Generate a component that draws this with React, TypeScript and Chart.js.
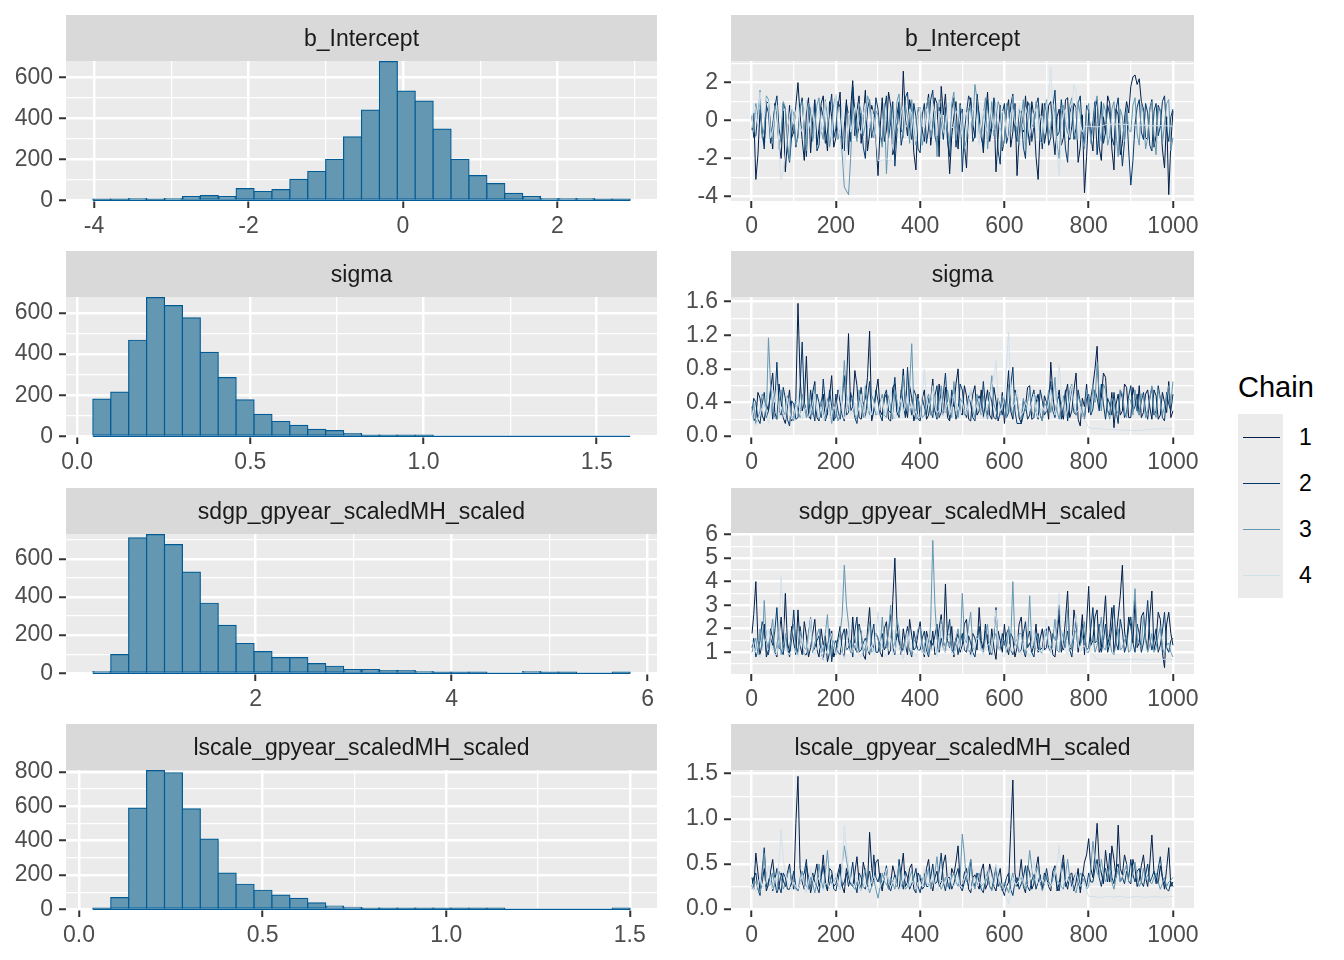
import React, { useEffect, useRef } from "react";
import { Chart, registerables } from "chart.js";

Chart.register(...registerables);
Chart.defaults.font.family = '"Liberation Sans", Arial, sans-serif';

// ---------------- Colours ----------------
const CHAIN_COLORS = ["#011f4b", "#03396c", "#6497b1", "#d1e1ec"];
const CHAIN_LABELS = ["1", "2", "3", "4"];
const HIST_FILL = "#6497b1";
const HIST_LINE = "#005b96";

// ---------------- Histogram data (30 bins each) ----------------
const INTERCEPT_BIN_START = -4.015;
const INTERCEPT_BIN_WIDTH = 0.2319;
const INTERCEPT_COUNTS = [3, 1, 8, 3, 8, 18, 23, 18, 57, 43, 52, 102, 141, 200, 310, 441, 678, 534, 485, 348, 200, 121, 82, 34, 18, 8, 8, 8, 3, 1];

const SIGMA_BIN_START = 0.0454;
const SIGMA_BIN_WIDTH = 0.0517;
const SIGMA_COUNTS = [181, 215, 467, 674, 635, 576, 408, 285, 177, 107, 72, 53, 34, 28, 13, 3, 3, 1, 1, 0, 0, 0, 0, 0, 0, 0, 0, 0, 0, 0];

const SDGP_BIN_START = 0.34;
const SDGP_BIN_WIDTH = 0.1827;
const SDGP_COUNTS = [9, 98, 709, 726, 674, 530, 367, 251, 156, 114, 82, 82, 51, 37, 19, 19, 14, 14, 9, 4, 4, 1, 0, 0, 9, 4, 1, 0, 0, 1];

const LSCALE_BIN_START = 0.0376;
const LSCALE_BIN_WIDTH = 0.04878;
const LSCALE_COUNTS = [2, 68, 589, 807, 795, 585, 409, 211, 146, 111, 82, 64, 37, 18, 12, 6, 4, 4, 4, 4, 1, 1, 1, 0, 0, 0, 0, 0, 0, 1];

// ---------------- Trace data ----------------
// main draws at iterations 1, 10, 20, ..., 1000; mid draws at 5, 15, ..., 995
const ITERATIONS = [1, ...Array.from({ length: 100 }, (_, i) => (i + 1) * 10)];
const ITERATIONS_MID = Array.from({ length: 100 }, (_, i) => i * 10 + 5);

const INTERCEPT_CHAIN1 = [
  -0.5, -3.1, 0.6, -1.2, 0.9, -1.5, 0.3, -2.0, -2.7, 0.8,
  -0.6, 2.0, -1.0, 0.4, -1.7, 1.1, -0.4, 1.3, -1.6, 0.2,
  -0.9, 1.5, -0.3, -1.8, 2.1, 0.5, -1.2, 1.6, -0.7, 0.3,
  -2.9, 1.2, -0.5, 0.8, -1.4, 1.0, 2.6, -0.8, 0.4, -2.6,
  0.7, -1.1, 1.4, -0.2, 0.9, 1.8, 1.4, -2.8, 0.2, -1.5,
  0.6, -2.5, 1.2, -0.9, 0.3, -1.7, 1.5, -0.4, -2.7, 0.8,
  -1.0, 1.1, -0.6, -2.9, 0.5, 1.3, -1.3, 0.2, -3.1, 0.9,
  -0.5, 1.0, -1.8, 0.6, -0.9, 1.2, -0.3, 0.7, -1.4, -3.8,
  0.4, -1.6, 1.1, -2.1, -0.7, 0.9, -2.6, 0.3, -1.2, 1.0,
  1.8, 2.4, 2.2, 0.6, -1.0, 1.1, -0.8, 0.5, -2.5, -3.9,
  0.5,
];
const INTERCEPT_CHAIN1_MID = [
  0.4, -1.8, -0.7, 1.0, -0.3, 0.9, -1.2, 0.5, -1.0, -0.9,
  0.8, 0.3, -2.1, 1.2, 0.0, -1.3, 0.9, -0.5, 1.0, -1.4,
  0.7, -1.5, 1.1, 0.6, -0.8, 1.3, 0.2, -1.6, 0.8, -1.0,
  -0.4, -1.1, 1.5, -1.8, 0.3, -0.6, 0.1, 1.1, -1.7, 0.5,
  -0.5, 0.6, -1.3, 1.2, -1.9, 0.3, -0.6, -0.8, 1.0, 0.3,
  -1.3, 0.4, -0.2, 1.4, -0.5, 0.2, -1.1, 0.9, -0.9, -1.6,
  0.5, -1.4, 0.9, -0.8, -0.6, -0.4, 1.0, -1.9, -0.3, -1.2,
  0.8, -0.7, 0.2, -1.3, 1.1, -1.0, 0.9, -2.2, 0.3, -1.9,
  -0.8, 0.6, -1.4, 0.2, 1.3, -1.5, 0.6, -1.8, 0.1, 0.4,
  2.3, 1.9, 1.0, -0.9, 0.6, -1.4, 0.8, -1.5, 0.2, -1.2,
];
const INTERCEPT_CHAIN2 = [
  0.2, -0.8, 1.0, -1.5, 0.4, -0.2, 1.3, -1.1, 0.6, -2.2,
  0.1, -0.7, 1.2, -1.9, 0.5, 0.9, -1.3, 0.2, -0.6, 1.4,
  -0.4, 0.7, -1.6, 0.3, 1.8, -0.9, 0.4, -2.0, 1.1, -0.3,
  0.6, -1.2, 1.3, -0.1, -2.4, 0.8, -0.6, 1.5, -1.0, 0.2,
  -1.7, 0.9, -0.4, 1.6, -1.3, 0.1, 0.7, -1.9, 1.2, -0.5,
  -2.7, 0.4, 1.0, -0.8, 0.3, -1.4, 1.1, -0.2, 0.6, -2.3,
  0.9, -0.7, 1.4, -1.1, 0.2, -2.0, 0.7, -0.3, 1.2, -1.5,
  0.4, -0.9, 1.6, -0.6, 0.1, -2.2, 0.8, -0.4, 1.3, -1.2,
  0.5, -0.1, -1.8, 1.0, -0.6, 0.3, -1.3, 1.2, -2.4, 0.6,
  -3.4, -0.2, 1.1, -1.0, 0.4, -1.6, 0.9, -0.3, 1.3, -1.1,
  0.6,
];
const INTERCEPT_CHAIN2_MID = [
  -0.9, 0.4, -0.6, 0.8, -1.2, 0.7, -0.4, 0.9, -1.5, -0.8,
  -1.4, 0.6, -0.5, 0.9, -0.7, -1.6, 0.7, -1.2, 0.5, -0.9,
  1.0, -0.8, 0.9, -1.1, 0.5, -0.3, -1.4, 0.6, -0.9, 1.2,
  -0.7, 0.5, -0.9, 1.0, -0.6, -1.3, 1.2, -0.4, 0.9, -1.5,
  0.3, -1.2, 1.1, -0.8, 0.7, -1.0, -1.1, 0.6, -1.4, 0.9,
  -0.6, 1.3, -1.1, 0.9, -0.9, 0.5, -0.7, 1.2, -1.6, 0.4,
  -1.2, 0.8, -0.5, 0.6, -1.4, 1.0, -1.1, 0.8, -0.4, 0.9,
  -1.3, 0.7, -0.8, 1.1, -1.5, 0.4, -1.0, 0.9, -0.6, 0.8,
  -0.9, 1.0, -0.4, -1.2, 0.8, -0.9, 0.6, -0.7, -1.1, -1.6,
  -2.1, 0.7, -0.6, 0.9, -1.3, 0.5, -0.8, 1.0, -0.5, 0.2,
];
const INTERCEPT_CHAIN3 = [
  0.3, 0.9, 1.6, -0.4, 1.1, -1.2, 0.5, -0.8, 0.7, -2.1,
  0.4, -0.9, 1.0, -1.6, 0.6, -0.3, 1.2, -1.0, 0.2, -0.6,
  1.3, -0.5, -3.5, -3.9, 0.8, -1.1, 0.5, -0.2, 1.0, -0.9,
  0.3, -1.4, -2.8, 0.7, -0.5, 1.4, -0.9, 0.2, 1.1, -1.3,
  0.6, -0.7, 1.2, -0.4, -1.9, 0.9, 0.2, -1.2, 1.5, -0.3,
  0.4, -1.0, 0.8, 1.9, -0.6, 0.3, -1.5, 1.0, -0.2, 0.7,
  -1.1, 0.5, 1.3, -0.8, 0.2, -1.6, 0.9, -0.4, 0.6, -1.2,
  1.1, -0.3, 0.4, -2.0, 0.8, -0.7, 1.2, -1.0, 0.3, -1.5,
  0.9, -0.4, 1.3, -1.1, 0.5, -0.8, 1.0, -1.9, 0.2, 0.7,
  -0.6, 1.2, -1.3, 0.4, -0.9, 1.0, -1.8, 0.6, -0.2, 1.1,
  -0.9,
];
const INTERCEPT_CHAIN3_MID = [
  -0.6, 0.2, -0.9, 1.3, -0.4, 0.8, -1.5, 1.0, -1.2, 0.6,
  -1.3, 0.7, -0.4, 0.9, -1.1, 0.8, -0.5, 1.1, -1.4, 0.9,
  -1.0, -1.8, -3.7, -2.0, -0.4, 0.9, -0.8, 1.3, -0.6, 0.5,
  -0.8, 0.9, -0.6, -1.1, 1.0, -0.3, 0.8, -1.2, -0.4, 0.7,
  -1.3, 0.8, -0.9, 0.5, 1.1, -0.7, -0.5, 0.9, -1.0, 0.8,
  -1.5, 0.6, -0.3, 1.1, -0.9, 1.2, -0.4, -0.8, 1.0, -1.4,
  0.9, -0.6, 0.2, -1.3, 1.1, -0.5, -0.2, 1.0, -1.1, 0.6,
  -0.8, 0.9, -1.3, 0.4, -0.2, 0.8, -0.6, 1.0, -0.9, 0.5,
  -1.2, 0.8, -0.5, 0.9, -1.3, 0.6, -0.7, 0.6, -1.1, -0.5,
  0.8, -0.7, 0.9, -1.5, 0.6, -0.8, 0.7, -1.2, 0.9, -1.6,
];
const INTERCEPT_CHAIN4 = [
  -0.4, 0.6, 1.5, 0.2, 1.0, -0.5, 0.8, -3.1, -1.8, 0.3,
  -0.2, 0.9, -0.6, 1.1, 0.1, -0.9, 0.5, -0.3, 0.7, -1.0,
  1.4, -0.8, -2.5, 0.4, -0.1, 0.6, -0.7, 0.9, -0.4, 0.2,
  -2.1, -2.1, -2.0, -2.1, 0.5, -0.6, 0.8, -0.2, 0.4, -1.1,
  0.7, -0.4, 0.3, 0.9, -0.8, 0.1, -0.5, 1.0, -0.3, 0.6,
  -0.9, 0.4, -0.2, 0.8, -1.3, 0.5, -0.6, 0.2, 0.9, -0.4,
  0.3, -1.0, 0.6, -0.3, 0.1, 0.7, -0.8, 0.4, -0.5, 0.2,
  0.9, 2.8, -0.6, -2.9, 0.3, -0.4, 0.7, 1.6, -0.2, -0.3,
  -0.3, -0.32, -0.34, -0.3, -0.22, -0.2, -0.2, -0.18, -0.2, -0.2,
  -0.26, -0.25, -0.25, -0.24, -0.26, -0.28, -0.27, -0.26, -0.28, -0.27,
  -0.3,
];
const INTERCEPT_CHAIN4_MID = [
  0.9, -0.2, 0.4, 1.2, -0.9, 0.3, -1.4, -2.6, -0.5, 0.8,
  0.5, -0.3, 0.6, -0.5, 0.8, 0.2, -0.6, 1.0, -0.2, 0.4,
  -0.3, 0.5, -1.4, -0.6, 0.7, -0.4, 0.3, -0.2, 0.6, -0.8,
  -2.1, -2.0, -2.1, -1.2, -0.2, 0.4, -0.4, 0.6, -0.7, 0.3,
  -0.3, 0.6, -0.5, 0.2, 0.5, -0.6, 0.8, -0.4, 0.4, -0.2,
  0.6, -0.7, 0.5, -0.4, 0.2, -0.3, 0.7, -0.5, 0.1, 0.5,
  -0.6, 0.4, -0.2, 0.8, -0.5, 0.3, -0.2, 0.6, 0.2, -0.7,
  1.3, 0.5, -1.6, -0.8, 0.6, -0.9, 1.9, -1.0, -0.6, -0.3,
  -0.31, -0.33, -0.32, -0.26, -0.21, -0.2, -0.19, -0.19, -0.2, -0.23,
  -0.25, -0.25, -0.24, -0.25, -0.27, -0.28, -0.26, -0.27, -0.28, -0.29,
];

const SIGMA_CHAIN1 = [
  0.35, 0.22, 0.45, 0.18, 0.30, 0.75, 0.20, 0.40, 0.15, 0.55,
  0.25, 1.58, 0.30, 0.95, 0.20, 0.65, 0.18, 0.50, 0.28, 0.72,
  0.22, 0.40, 0.18, 1.22, 0.35, 0.60, 0.20, 0.45, 1.25, 0.30,
  0.68, 0.25, 0.50, 0.18, 0.62, 0.30, 0.80, 0.22, 0.45, 0.28,
  0.20, 0.55, 0.25, 0.68, 0.20, 0.40, 0.58, 0.18, 0.35, 0.80,
  0.25, 0.48, 0.18, 0.60, 0.30, 0.22, 0.55, 0.20, 0.42, 0.28,
  0.15, 0.78, 0.20, 0.45, 0.15, 0.35, 0.60, 0.22, 0.50, 0.18,
  0.40, 0.88, 0.25, 0.55, 0.20, 0.62, 0.30, 0.75, 0.12, 0.35,
  0.28, 0.60, 1.07, 0.45, 0.70, 0.25, 0.10, 0.50, 0.30, 0.58,
  0.22, 0.45, 0.60, 0.28, 0.55, 0.20, 0.48, 0.25, 0.40, 0.65,
  0.30,
];
const SIGMA_CHAIN1_MID = [
  0.18, 0.52, 0.25, 0.38, 0.55, 0.28, 0.62, 0.22, 0.35, 0.18,
  0.45, 0.70, 0.40, 0.25, 0.52, 0.22, 0.40, 0.18, 0.48, 0.20,
  0.55, 0.25, 0.60, 0.30, 0.78, 0.22, 0.38, 0.70, 0.18, 0.52,
  0.30, 0.45, 0.20, 0.58, 0.25, 0.48, 0.35, 0.60, 0.18, 0.50,
  0.45, 0.20, 0.42, 0.30, 0.62, 0.25, 0.22, 0.45, 0.62, 0.28,
  0.60, 0.20, 0.50, 0.25, 0.55, 0.40, 0.25, 0.58, 0.18, 0.52,
  0.45, 0.30, 0.55, 0.22, 0.42, 0.58, 0.20, 0.40, 0.25, 0.48,
  0.20, 0.50, 0.42, 0.28, 0.50, 0.22, 0.55, 0.20, 0.45, 0.62,
  0.45, 0.80, 0.35, 0.75, 0.30, 0.52, 0.38, 0.25, 0.62, 0.22,
  0.58, 0.30, 0.22, 0.50, 0.35, 0.55, 0.20, 0.52, 0.28, 0.22,
];
const SIGMA_CHAIN2 = [
  0.28, 0.40, 0.15, 0.52, 0.30, 0.20, 0.88, 0.25, 0.45, 0.12,
  0.38, 0.22, 1.12, 0.30, 0.55, 0.18, 0.40, 0.68, 0.25, 0.35,
  0.50, 0.20, 0.72, 0.28, 0.40, 0.15, 0.58, 0.22, 0.65, 0.30,
  0.42, 0.18, 0.55, 0.28, 0.70, 0.22, 0.38, 0.82, 0.25, 0.48,
  0.18, 0.35, 0.45, 0.22, 0.60, 0.28, 0.75, 0.20, 0.42, 0.30,
  0.55, 0.22, 0.38, 0.18, 0.48, 0.65, 0.25, 0.40, 0.20, 0.35,
  0.45, 0.28, 0.82, 0.15, 0.15, 0.38, 0.25, 0.55, 0.20, 0.42,
  0.30, 0.65, 0.22, 0.48, 0.35, 0.18, 0.58, 0.25, 0.40, 0.20,
  0.50, 0.32, 0.45, 0.62, 0.20, 0.38, 0.52, 0.15, 0.45, 0.28,
  0.60, 0.35, 0.25, 0.52, 0.20, 0.58, 0.30, 0.45, 0.18, 0.38,
  0.50,
];
const SIGMA_CHAIN2_MID = [
  0.45, 0.20, 0.38, 0.22, 0.55, 0.40, 0.30, 0.58, 0.20, 0.42,
  0.20, 0.58, 0.40, 0.22, 0.32, 0.50, 0.22, 0.38, 0.55, 0.18,
  0.30, 0.45, 0.25, 0.52, 0.22, 0.40, 0.30, 0.45, 0.22, 0.55,
  0.25, 0.48, 0.30, 0.45, 0.30, 0.55, 0.22, 0.40, 0.55, 0.20,
  0.45, 0.25, 0.30, 0.48, 0.22, 0.50, 0.35, 0.55, 0.20, 0.62,
  0.30, 0.48, 0.22, 0.40, 0.30, 0.35, 0.52, 0.22, 0.45, 0.25,
  0.22, 0.60, 0.30, 0.15, 0.25, 0.20, 0.45, 0.30, 0.55, 0.25,
  0.48, 0.30, 0.42, 0.20, 0.55, 0.40, 0.28, 0.55, 0.25, 0.45,
  0.25, 0.55, 0.30, 0.38, 0.45, 0.25, 0.30, 0.55, 0.22, 0.48,
  0.30, 0.50, 0.42, 0.30, 0.45, 0.25, 0.60, 0.22, 0.52, 0.30,
];
const SIGMA_CHAIN3 = [
  0.25, 0.15, 0.30, 0.45, 1.17, 0.35, 0.20, 0.55, 0.25, 0.40,
  0.18, 0.30, 0.50, 0.22, 0.35, 0.60, 0.20, 0.28, 0.45, 0.15,
  0.32, 0.25, 0.90, 0.30, 0.48, 0.20, 0.38, 0.60, 0.25, 0.42,
  0.28, 0.50, 0.22, 0.35, 0.55, 0.25, 0.72, 0.30, 1.10, 0.20,
  0.35, 0.25, 0.50, 0.30, 0.22, 0.60, 0.28, 0.40, 0.65, 0.22,
  0.40, 0.30, 0.55, 0.22, 0.35, 0.48, 0.20, 0.72, 0.30, 0.25,
  0.38, 0.62, 0.25, 0.45, 0.20, 0.30, 0.55, 0.22, 0.40, 0.18,
  0.35, 0.28, 0.70, 0.20, 0.48, 0.30, 0.62, 0.25, 0.40, 0.22,
  0.45, 0.60, 0.88, 0.30, 0.55, 0.20, 0.40, 0.30, 0.50, 0.22,
  0.42, 0.55, 0.25, 0.48, 0.30, 0.60, 0.22, 0.45, 0.35, 0.60,
  0.65,
];
const SIGMA_CHAIN3_MID = [
  0.40, 0.22, 0.50, 0.25, 0.60, 0.22, 0.40, 0.30, 0.48, 0.22,
  0.42, 0.22, 0.35, 0.45, 0.25, 0.30, 0.42, 0.20, 0.35, 0.30,
  0.18, 0.45, 0.50, 0.40, 0.25, 0.55, 0.22, 0.35, 0.48, 0.25,
  0.40, 0.25, 0.48, 0.20, 0.42, 0.38, 0.45, 0.60, 0.35, 0.45,
  0.22, 0.42, 0.25, 0.48, 0.40, 0.30, 0.55, 0.22, 0.35, 0.45,
  0.25, 0.42, 0.30, 0.50, 0.25, 0.30, 0.45, 0.38, 0.22, 0.48,
  0.22, 0.35, 0.52, 0.25, 0.45, 0.40, 0.30, 0.48, 0.25, 0.40,
  0.55, 0.45, 0.30, 0.38, 0.25, 0.55, 0.35, 0.48, 0.30, 0.55,
  0.28, 0.40, 0.50, 0.62, 0.30, 0.45, 0.25, 0.55, 0.30, 0.45,
  0.25, 0.30, 0.50, 0.22, 0.45, 0.30, 0.55, 0.25, 0.48, 0.40,
];
const SIGMA_CHAIN4 = [
  0.30, 0.12, 0.25, 0.40, 0.15, 0.55, 0.60, 0.35, 0.20, 0.30,
  0.25, 0.45, 0.20, 0.35, 0.28, 0.50, 0.22, 0.18, 0.40, 0.25,
  0.30, 0.60, 0.20, 0.45, 0.30, 0.25, 0.50, 0.22, 0.35, 0.40,
  0.25, 0.45, 0.30, 0.55, 0.20, 0.35, 0.28, 0.50, 0.40, 0.30,
  0.22, 0.80, 0.35, 0.60, 0.28, 0.45, 0.30, 0.25, 0.50, 0.35,
  0.40, 0.25, 0.55, 0.30, 0.45, 0.20, 0.35, 0.60, 0.90, 0.30,
  0.45, 1.24, 0.35, 0.55, 0.25, 0.40, 0.30, 0.50, 0.22, 0.35,
  0.30, 0.55, 0.25, 0.85, 0.40, 0.30, 0.60, 0.28, 0.35, 0.20,
  0.10, 0.09, 0.09, 0.085, 0.08, 0.08, 0.08, 0.075, 0.075, 0.07,
  0.07, 0.065, 0.065, 0.07, 0.08, 0.08, 0.085, 0.085, 0.09, 0.09,
  0.09,
];
const SIGMA_CHAIN4_MID = [
  0.15, 0.20, 0.35, 0.28, 0.30, 0.40, 0.22, 0.25, 0.45, 0.20,
  0.35, 0.28, 0.30, 0.22, 0.40, 0.30, 0.35, 0.30, 0.22, 0.35,
  0.45, 0.30, 0.35, 0.25, 0.40, 0.35, 0.30, 0.28, 0.25, 0.30,
  0.38, 0.25, 0.40, 0.30, 0.28, 0.45, 0.35, 0.30, 0.25, 0.22,
  0.50, 0.45, 0.40, 0.35, 0.30, 0.25, 0.40, 0.35, 0.30, 0.25,
  0.30, 0.40, 0.35, 0.38, 0.30, 0.28, 0.45, 0.70, 0.45, 0.35,
  0.85, 0.50, 0.40, 0.35, 0.30, 0.35, 0.40, 0.30, 0.28, 0.30,
  0.40, 0.35, 0.45, 0.50, 0.25, 0.45, 0.35, 0.30, 0.25, 0.15,
  0.095, 0.09, 0.088, 0.082, 0.08, 0.08, 0.078, 0.075, 0.072, 0.07,
  0.068, 0.065, 0.068, 0.075, 0.08, 0.082, 0.085, 0.088, 0.09, 0.09,
];

const SDGP_CHAIN1 = [
  1.8, 4.0, 0.9, 2.2, 1.1, 1.6, 0.8, 2.5, 3.5, 1.0,
  1.4, 2.8, 0.9, 1.7, 1.2, 2.4, 0.8, 1.3, 0.6, 1.9,
  1.1, 2.1, 0.8, 1.5, 2.5, 1.0, 1.8, 0.7, 2.9, 1.2,
  1.6, 0.8, 2.3, 1.1, 5.0, 1.4, 2.0, 0.9, 1.7, 1.2,
  2.3, 0.8, 1.5, 1.9, 1.0, 2.6, 3.9, 1.2, 0.8, 1.8,
  1.3, 2.4, 0.9, 1.6, 2.9, 1.1, 1.4, 2.0, 0.7, 1.5,
  2.2, 0.9, 1.6, 1.2, 2.5, 0.8, 1.9, 1.3, 1.0, 2.0,
  1.2, 1.8, 0.8, 2.6, 1.4, 3.6, 1.1, 2.2, 1.6, 0.9,
  3.8, 1.5, 2.8, 1.2, 3.4, 1.8, 1.0, 2.5, 4.7, 1.3,
  2.1, 3.2, 1.4, 2.7, 1.1, 3.6, 1.5, 2.4, 0.35, 2.7,
  1.3,
];
const SDGP_CHAIN1_MID = [
  2.6, 1.5, 1.4, 0.8, 2.0, 1.0, 1.7, 1.2, 1.4, 2.1,
  0.9, 1.3, 2.3, 0.8, 1.8, 1.1, 2.0, 1.7, 1.0, 0.8,
  1.6, 1.0, 2.0, 1.0, 1.2, 2.2, 0.9, 1.9, 1.3, 1.8,
  1.0, 2.0, 0.9, 3.2, 2.2, 0.9, 1.3, 2.4, 1.1, 1.8,
  1.2, 1.9, 1.1, 0.9, 2.0, 1.3, 1.5, 2.1, 1.5, 1.0,
  2.2, 1.1, 1.8, 1.1, 1.5, 2.2, 0.9, 1.2, 1.9, 1.0,
  1.2, 1.8, 0.8, 2.2, 1.1, 1.6, 1.0, 2.2, 1.6, 1.1,
  2.1, 0.9, 1.7, 1.0, 2.4, 1.2, 2.8, 1.0, 2.6, 2.2,
  1.3, 2.5, 1.0, 2.2, 1.3, 2.9, 1.6, 3.4, 1.9, 2.5,
  1.4, 1.2, 2.5, 1.6, 2.5, 1.1, 2.7, 1.0, 2.2, 1.8,
];
const SDGP_CHAIN2 = [
  1.2, 0.8, 1.5, 2.0, 0.9, 1.3, 2.9, 1.1, 1.7, 0.8,
  2.8, 1.0, 1.4, 0.9, 2.4, 1.2, 1.7, 0.7, 1.1, 0.6,
  1.5, 0.9, 2.0, 1.2, 0.8, 2.5, 1.1, 1.6, 0.9, 2.2,
  1.0, 1.8, 1.3, 2.6, 0.9, 1.5, 1.2, 2.1, 0.8, 1.4,
  1.1, 1.9, 0.8, 1.3, 2.2, 1.6, 1.0, 2.4, 1.2, 0.9,
  1.8, 1.0, 1.4, 0.8, 2.1, 1.2, 1.7, 0.9, 2.9, 1.1,
  1.3, 2.0, 0.9, 1.6, 1.1, 2.3, 1.4, 0.8, 1.8, 1.2,
  2.0, 1.0, 1.5, 3.0, 1.1, 1.9, 0.8, 2.5, 1.3, 1.7,
  1.2, 2.9, 1.5, 1.0, 2.2, 1.4, 3.0, 1.1, 1.9, 1.3,
  2.5, 1.0, 1.8, 1.4, 3.2, 1.1, 2.0, 1.3, 2.7, 1.0,
  1.6,
];
const SDGP_CHAIN2_MID = [
  1.6, 1.1, 2.3, 1.0, 1.6, 1.9, 1.2, 0.9, 1.3, 1.6,
  1.3, 2.1, 0.9, 1.8, 1.0, 1.5, 1.0, 1.4, 2.0, 1.3,
  1.0, 1.7, 1.1, 1.5, 1.9, 1.0, 1.4, 1.1, 1.7, 1.0,
  1.5, 1.1, 1.9, 1.2, 1.8, 1.0, 1.6, 1.1, 1.9, 1.1,
  1.6, 1.1, 1.5, 1.7, 1.0, 1.2, 1.8, 1.0, 1.6, 1.4,
  1.1, 1.7, 1.0, 1.5, 1.2, 1.9, 1.0, 1.6, 1.3, 1.8,
  1.8, 1.1, 1.4, 1.0, 1.8, 1.2, 1.0, 1.5, 1.1, 1.9,
  1.2, 1.8, 2.2, 1.3, 1.5, 1.1, 1.7, 1.4, 2.2, 1.1,
  2.0, 1.4, 2.2, 1.5, 1.0, 2.1, 1.4, 2.4, 1.0, 2.1,
  1.4, 2.2, 1.0, 2.1, 1.6, 1.5, 1.0, 1.9, 1.2, 1.5,
];
const SDGP_CHAIN3 = [
  1.0, 1.6, 2.0, 3.2, 1.1, 2.4, 1.3, 0.9, 1.8, 1.2,
  2.2, 0.9, 1.5, 1.1, 2.5, 1.4, 2.0, 1.0, 2.6, 1.2,
  0.9, 1.8, 4.7, 2.2, 1.3, 1.0, 1.9, 1.2, 2.3, 1.1,
  1.6, 2.5, 1.2, 3.0, 1.4, 2.0, 1.1, 1.8, 0.9, 1.5,
  2.1, 1.3, 0.9, 5.75, 1.6, 2.4, 1.2, 1.8, 1.0, 2.0,
  3.5, 1.4, 2.7, 1.1, 1.7, 1.0, 2.2, 1.3, 1.8, 1.1,
  1.5, 2.1, 4.0, 1.2, 1.8, 0.9, 3.4, 1.3, 1.6, 1.0,
  1.9, 1.2, 2.4, 1.0, 1.6, 2.8, 1.1, 1.9, 1.3, 2.3,
  1.0, 1.7, 1.3, 2.5, 1.1, 1.5, 0.9, 2.0, 1.2, 1.7,
  1.1, 3.7, 1.4, 2.6, 1.0, 1.8, 1.2, 2.1, 0.9, 1.4,
  0.8,
];
const SDGP_CHAIN3_MID = [
  1.3, 0.9, 1.1, 1.5, 1.8, 1.0, 2.0, 1.3, 1.0, 1.7,
  1.1, 1.9, 1.2, 1.8, 1.0, 1.7, 1.3, 1.8, 0.9, 1.5,
  1.4, 2.6, 3.0, 1.0, 1.7, 2.1, 1.0, 1.6, 1.0, 1.8,
  1.1, 1.4, 1.9, 1.2, 2.4, 1.0, 1.6, 1.1, 1.5, 2.0,
  1.0, 1.6, 2.3, 3.0, 1.1, 1.5, 1.7, 1.1, 1.6, 1.2,
  1.6, 2.1, 1.2, 1.7, 1.1, 1.6, 1.0, 1.6, 1.2, 1.5,
  1.0, 1.5, 1.4, 1.8, 1.2, 1.5, 1.2, 1.8, 1.0, 1.6,
  1.3, 1.6, 1.1, 1.9, 1.2, 1.4, 1.8, 1.2, 1.6, 1.0,
  1.4, 1.0, 1.9, 1.2, 1.7, 1.0, 1.4, 1.1, 1.5, 1.0,
  2.4, 1.6, 1.2, 1.5, 1.3, 1.0, 1.7, 1.2, 1.3, 1.0,
];
const SDGP_CHAIN4 = [
  1.5, 1.0, 0.8, 1.4, 2.0, 1.1, 0.9, 4.2, 1.3, 0.9,
  1.2, 0.8, 1.6, 1.0, 2.4, 0.9, 1.3, 0.7, 1.1, 1.8,
  0.9, 1.4, 0.7, 2.0, 1.0, 1.2, 0.8, 1.5, 1.1, 0.9,
  2.7, 1.2, 0.8, 1.6, 1.0, 1.3, 0.7, 1.9, 1.1, 0.8,
  1.4, 0.9, 1.7, 1.1, 0.8, 2.2, 1.0, 1.3, 0.9, 1.6,
  1.0, 1.8, 0.8, 1.2, 1.5, 0.9, 1.3, 1.0, 2.8, 1.1,
  0.8, 1.4, 1.0, 1.7, 0.9, 1.2, 0.8, 1.9, 1.1, 0.9,
  2.4, 1.0, 1.6, 3.5, 1.2, 0.9, 1.5, 2.6, 1.0, 1.3,
  1.1, 0.9, 0.72, 0.7, 0.7, 0.72, 0.7, 0.68, 0.7, 0.7,
  0.7, 0.72, 0.7, 0.7, 0.68, 0.7, 0.7, 0.72, 0.7, 0.7,
  0.7,
];
const SDGP_CHAIN4_MID = [
  1.2, 0.9, 1.1, 1.6, 1.4, 0.9, 1.6, 2.6, 1.0, 1.1,
  1.0, 1.3, 0.9, 1.5, 1.1, 1.2, 1.0, 0.9, 1.5, 1.2,
  1.2, 1.0, 1.3, 1.1, 1.4, 0.9, 1.2, 1.0, 1.3, 1.8,
  1.5, 1.0, 1.2, 0.9, 1.5, 1.0, 1.3, 1.2, 1.0, 1.1,
  1.1, 1.3, 1.0, 1.4, 1.6, 1.2, 1.4, 1.0, 1.3, 1.2,
  1.4, 1.1, 1.0, 1.6, 1.1, 1.2, 1.4, 1.9, 1.3, 0.9,
  1.2, 1.1, 1.3, 1.1, 1.4, 1.0, 1.4, 1.2, 1.0, 1.7,
  1.4, 1.2, 2.3, 1.8, 1.1, 1.3, 1.9, 1.4, 1.2, 1.0,
  1.0, 0.78, 0.7, 0.71, 0.7, 0.7, 0.69, 0.7, 0.7, 0.71,
  0.7, 0.71, 0.7, 0.69, 0.7, 0.7, 0.71, 0.7, 0.7, 0.7,
];

const LSCALE_CHAIN1 = [
  0.35, 0.62, 0.20, 0.45, 0.28, 0.55, 0.18, 0.40, 0.25, 0.50,
  0.22, 1.47, 0.30, 0.48, 0.18, 0.38, 0.25, 0.60, 0.20, 0.42,
  0.28, 0.50, 0.18, 0.35, 0.25, 0.58, 0.22, 0.40, 0.85, 0.30,
  0.55, 0.20, 0.45, 0.28, 0.38, 0.22, 0.62, 0.30, 0.50, 0.18,
  0.35, 0.25, 0.55, 0.20, 0.42, 0.30, 0.60, 0.22, 0.38, 0.70,
  0.25, 0.45, 0.18, 0.38, 0.22, 0.50, 0.28, 0.40, 0.20, 0.45,
  0.15, 0.30, 1.43, 0.25, 0.55, 0.18, 0.40, 0.28, 0.58, 0.22,
  0.35, 0.20, 0.48, 0.28, 0.60, 0.22, 0.40, 0.30, 0.18, 0.52,
  0.78, 0.35, 0.95, 0.40, 0.65, 0.30, 0.55, 0.93, 0.38, 0.50,
  0.28, 0.45, 0.32, 0.60, 0.25, 0.82, 0.35, 0.48, 0.22, 0.68,
  0.30,
];
const LSCALE_CHAIN1_MID = [
  0.22, 0.40, 0.30, 0.20, 0.42, 0.30, 0.25, 0.32, 0.40, 0.28,
  0.95, 0.45, 0.22, 0.35, 0.30, 0.50, 0.35, 0.28, 0.45, 0.25,
  0.40, 0.25, 0.45, 0.28, 0.40, 0.30, 0.52, 0.25, 0.45, 0.52,
  0.30, 0.38, 0.22, 0.48, 0.25, 0.42, 0.25, 0.45, 0.22, 0.40,
  0.22, 0.45, 0.30, 0.35, 0.25, 0.50, 0.30, 0.45, 0.52, 0.28,
  0.40, 0.22, 0.35, 0.28, 0.42, 0.22, 0.50, 0.25, 0.35, 0.22,
  0.25, 0.88, 0.40, 0.35, 0.25, 0.48, 0.22, 0.45, 0.30, 0.40,
  0.25, 0.42, 0.20, 0.45, 0.30, 0.38, 0.20, 0.45, 0.35, 0.60,
  0.45, 0.62, 0.50, 0.28, 0.45, 0.70, 0.35, 0.45, 0.60, 0.30,
  0.55, 0.25, 0.48, 0.35, 0.50, 0.40, 0.28, 0.35, 0.45, 0.25,
];
const LSCALE_CHAIN2 = [
  0.25, 0.40, 0.15, 0.68, 0.30, 0.20, 0.45, 0.18, 0.35, 0.22,
  0.42, 0.20, 0.35, 0.55, 0.25, 0.30, 0.18, 0.48, 0.22, 0.38,
  0.20, 0.45, 0.30, 0.25, 0.52, 0.18, 0.35, 0.22, 0.42, 0.60,
  0.30, 0.25, 0.48, 0.20, 0.38, 0.55, 0.22, 0.35, 0.28, 0.45,
  0.18, 0.40, 0.25, 0.50, 0.30, 0.62, 0.20, 0.35, 0.28, 0.45,
  0.20, 0.38, 0.55, 0.25, 0.30, 0.18, 0.42, 0.22, 0.48, 0.30,
  0.25, 0.40, 0.15, 0.35, 0.28, 0.48, 0.20, 0.38, 0.30, 0.22,
  0.45, 0.25, 0.38, 0.20, 0.52, 0.30, 0.25, 0.40, 0.22, 0.35,
  0.40, 0.30, 0.55, 0.25, 0.45, 0.62, 0.28, 0.50, 0.35, 0.42,
  0.55, 0.30, 0.45, 0.25, 0.50, 0.35, 0.28, 0.58, 0.30, 0.20,
  0.25,
];
const LSCALE_CHAIN2_MID = [
  0.35, 0.22, 0.42, 0.25, 0.40, 0.32, 0.25, 0.40, 0.22, 0.30,
  0.25, 0.30, 0.40, 0.22, 0.40, 0.25, 0.35, 0.30, 0.28, 0.22,
  0.32, 0.25, 0.40, 0.35, 0.28, 0.40, 0.25, 0.32, 0.25, 0.35,
  0.40, 0.35, 0.25, 0.30, 0.25, 0.35, 0.42, 0.22, 0.35, 0.25,
  0.30, 0.25, 0.35, 0.28, 0.42, 0.30, 0.35, 0.22, 0.38, 0.25,
  0.30, 0.25, 0.32, 0.40, 0.22, 0.35, 0.25, 0.35, 0.25, 0.20,
  0.35, 0.22, 0.30, 0.22, 0.35, 0.25, 0.32, 0.22, 0.38, 0.30,
  0.30, 0.35, 0.25, 0.40, 0.25, 0.38, 0.35, 0.30, 0.40, 0.25,
  0.30, 0.45, 0.35, 0.40, 0.30, 0.35, 0.45, 0.30, 0.28, 0.35,
  0.38, 0.42, 0.30, 0.38, 0.30, 0.42, 0.45, 0.35, 0.22, 0.30,
];
const LSCALE_CHAIN3 = [
  0.22, 0.30, 0.18, 0.62, 0.25, 0.40, 0.20, 0.35, 0.28, 0.45,
  0.30, 0.20, 0.42, 0.25, 0.35, 0.18, 0.50, 0.22, 0.65, 0.28,
  0.35, 0.22, 0.70, 0.40, 0.25, 0.30, 0.20, 0.45, 0.18, 0.32,
  0.12, 0.40, 0.28, 0.35, 0.22, 0.48, 0.30, 0.25, 0.42, 0.20,
  0.38, 0.25, 0.45, 0.30, 0.58, 0.22, 0.35, 0.28, 0.40, 0.25,
  0.83, 0.30, 0.55, 0.22, 0.40, 0.28, 0.35, 0.20, 0.45, 0.25,
  0.30, 0.18, 0.40, 0.28, 0.35, 0.22, 0.65, 0.30, 0.48, 0.20,
  0.38, 0.25, 0.45, 0.30, 0.22, 0.55, 0.28, 0.18, 0.40, 0.30,
  0.25, 0.75, 0.40, 0.55, 0.30, 0.48, 0.22, 0.45, 0.35, 0.50,
  0.30, 0.52, 0.25, 0.45, 0.38, 0.28, 0.40, 0.22, 0.35, 0.30,
  0.35,
];
const LSCALE_CHAIN3_MID = [
  0.30, 0.22, 0.35, 0.30, 0.28, 0.25, 0.42, 0.22, 0.38, 0.30,
  0.22, 0.35, 0.30, 0.22, 0.28, 0.30, 0.32, 0.40, 0.35, 0.30,
  0.28, 0.50, 0.55, 0.30, 0.22, 0.25, 0.35, 0.28, 0.25, 0.22,
  0.25, 0.30, 0.22, 0.28, 0.35, 0.25, 0.22, 0.35, 0.30, 0.28,
  0.30, 0.35, 0.22, 0.40, 0.30, 0.28, 0.25, 0.35, 0.30, 0.35,
  0.60, 0.45, 0.30, 0.35, 0.25, 0.30, 0.25, 0.30, 0.35, 0.22,
  0.25, 0.30, 0.25, 0.32, 0.28, 0.40, 0.45, 0.40, 0.30, 0.28,
  0.30, 0.35, 0.30, 0.25, 0.38, 0.35, 0.22, 0.30, 0.35, 0.22,
  0.45, 0.55, 0.35, 0.40, 0.35, 0.30, 0.35, 0.30, 0.42, 0.30,
  0.40, 0.35, 0.30, 0.32, 0.30, 0.35, 0.30, 0.28, 0.25, 0.32,
];
const LSCALE_CHAIN4 = [
  0.28, 0.20, 0.35, 0.25, 0.48, 0.22, 0.30, 0.88, 0.40, 0.25,
  0.30, 0.22, 0.38, 0.18, 0.45, 0.28, 0.35, 0.20, 0.30, 0.25,
  0.40, 0.22, 0.92, 0.50, 0.28, 0.35, 0.20, 0.30, 0.25, 0.38,
  0.22, 0.30, 0.45, 0.25, 0.35, 0.20, 0.40, 0.28, 0.32, 0.22,
  0.30, 0.45, 0.25, 0.38, 0.20, 0.32, 0.28, 0.40, 0.25, 0.35,
  0.28, 0.40, 0.22, 0.35, 0.30, 0.25, 0.45, 0.28, 0.50, 0.30,
  0.22, 0.06, 0.35, 0.28, 0.40, 0.25, 0.30, 0.55, 0.28, 0.35,
  0.30, 0.25, 0.38, 0.70, 0.28, 0.35, 0.22, 0.40, 0.25, 0.30,
  0.14, 0.14, 0.13, 0.13, 0.14, 0.14, 0.13, 0.14, 0.14, 0.13,
  0.13, 0.14, 0.14, 0.13, 0.13, 0.14, 0.14, 0.13, 0.13, 0.14,
  0.14,
];
const LSCALE_CHAIN4_MID = [
  0.22, 0.28, 0.25, 0.32, 0.30, 0.35, 0.52, 0.55, 0.30, 0.22,
  0.25, 0.28, 0.25, 0.30, 0.32, 0.30, 0.25, 0.28, 0.22, 0.30,
  0.28, 0.45, 0.65, 0.30, 0.25, 0.28, 0.25, 0.22, 0.30, 0.28,
  0.25, 0.35, 0.28, 0.30, 0.25, 0.28, 0.32, 0.25, 0.28, 0.30,
  0.25, 0.30, 0.32, 0.25, 0.28, 0.30, 0.35, 0.28, 0.30, 0.25,
  0.35, 0.30, 0.28, 0.25, 0.28, 0.35, 0.32, 0.40, 0.35, 0.25,
  0.12, 0.20, 0.28, 0.32, 0.30, 0.28, 0.40, 0.35, 0.30, 0.28,
  0.28, 0.30, 0.50, 0.40, 0.32, 0.28, 0.30, 0.32, 0.28, 0.20,
  0.14, 0.135, 0.13, 0.135, 0.14, 0.135, 0.135, 0.14, 0.135, 0.13,
  0.135, 0.14, 0.135, 0.13, 0.135, 0.14, 0.135, 0.13, 0.135, 0.14,
];

// ---------------- Axis breaks / labels ----------------
const TRACE_X_MAJOR = [0, 200, 400, 600, 800, 1000];
const TRACE_X_LABELS = ["0", "200", "400", "600", "800", "1000"];
const TRACE_X_MINOR = [100, 300, 500, 700, 900];

const COUNT_MAJOR_600 = [0, 200, 400, 600];
const COUNT_LABELS_600 = ["0", "200", "400", "600"];
const COUNT_MAJOR_800 = [0, 200, 400, 600, 800];
const COUNT_LABELS_800 = ["0", "200", "400", "600", "800"];
const COUNT_MINOR = [100, 300, 500, 700];

const INTERCEPT_MAJOR = [-4, -2, 0, 2];
const INTERCEPT_LABELS = ["-4", "-2", "0", "2"];
const INTERCEPT_MINOR = [-3, -1, 1, 3];

const HALF_MAJOR = [0, 0.5, 1, 1.5];
const HALF_LABELS = ["0.0", "0.5", "1.0", "1.5"];
const HALF_MINOR = [0.25, 0.75, 1.25];

const SDGP_HIST_MAJOR = [2, 4, 6];
const SDGP_HIST_LABELS = ["2", "4", "6"];
const SDGP_HIST_MINOR = [1, 3, 5];

const SIGMA_TRACE_MAJOR = [0, 0.4, 0.8, 1.2, 1.6];
const SIGMA_TRACE_LABELS = ["0.0", "0.4", "0.8", "1.2", "1.6"];
const SIGMA_TRACE_MINOR = [0.2, 0.6, 1.0, 1.4];

const SDGP_TRACE_MAJOR = [1, 2, 3, 4, 5, 6];
const SDGP_TRACE_LABELS = ["1", "2", "3", "4", "5", "6"];
const SDGP_TRACE_MINOR = [0.5, 1.5, 2.5, 3.5, 4.5, 5.5];

// ---------------- Layout ----------------
const ROW_TOPS = [15, 251, 488, 724];
const STRIP_H = 46;
const PANEL_H = 140;
const XAXIS_H = 40;
const CANVAS_H = STRIP_H + PANEL_H + XAXIS_H;
const LEFT_CANVAS = { left: 0, width: 668, yAxis: 66, padRight: 11 };
const RIGHT_CANVAS = { left: 670, width: 554, yAxis: 61, padRight: 30 };
const AXIS_FONT = 23;

const FONT = '"Liberation Sans", Arial, sans-serif';

const ggBackground = {
  id: "ggBackground",
  beforeDraw(chart: any) {
    const { ctx, chartArea: a } = chart;
    ctx.save();
    ctx.fillStyle = "#D9D9D9";
    ctx.fillRect(a.left, a.top - STRIP_H, a.right - a.left, STRIP_H);
    ctx.fillStyle = "#EBEBEB";
    ctx.fillRect(a.left, a.top, a.right - a.left, a.bottom - a.top);
    ctx.restore();
  },
};

function near(a: number, b: number) {
  return Math.abs(a - b) < 1e-9;
}

function makeAxis(
  min: number,
  max: number,
  major: number[],
  labels: string[],
  minor: number[],
  horizontal: boolean,
  size: number
) {
  const isMajor = (v: number) => major.some((m) => near(m, v));
  return {
    type: "linear",
    min,
    max,
    offset: false,
    afterBuildTicks(scale: any) {
      const vals = [...major, ...minor]
        .filter((v) => v >= scale.min - 1e-9 && v <= scale.max + 1e-9)
        .sort((a, b) => a - b);
      scale.ticks = vals.map((v) => ({ value: v }));
    },
    afterFit(scale: any) {
      if (horizontal) scale.height = size;
      else scale.width = size;
      scale.paddingLeft = 0;
      scale.paddingRight = 0;
      scale.paddingTop = 0;
      scale.paddingBottom = 0;
    },
    grid: {
      offset: false,
      color: "#FFFFFF",
      lineWidth: (c: any) => (c.tick && isMajor(c.tick.value) ? 2.5 : 1.25),
      tickColor: (c: any) => (c.tick && isMajor(c.tick.value) ? "#333333" : "rgba(0,0,0,0)"),
      tickWidth: 2,
      tickLength: 7,
      drawTicks: true,
    },
    border: { display: false },
    ticks: {
      autoSkip: false,
      maxRotation: 0,
      minRotation: 0,
      padding: horizontal ? 5 : 6,
      color: "#4D4D4D",
      font: { size: AXIS_FONT, family: FONT },
      callback: (v: number) => {
        const i = major.findIndex((m) => near(m, v));
        return i >= 0 ? labels[i] : "";
      },
    },
  };
}

function baseOptions(title: string, padRight: number, xAxis: any, yAxis: any) {
  return {
    responsive: false,
    maintainAspectRatio: false,
    animation: false,
    events: [],
    layout: { padding: { left: 0, right: padRight, top: 0, bottom: 0 } },
    plugins: {
      legend: { display: false },
      tooltip: { enabled: false },
      title: {
        display: true,
        text: title,
        color: "#1A1A1A",
        fullSize: false,
        font: { size: AXIS_FONT, weight: "normal", family: FONT, lineHeight: "26px" },
        padding: { top: 12, bottom: 8 },
      },
    },
    scales: { x: xAxis, y: yAxis },
  };
}

function histConfig(
  title: string,
  counts: number[],
  start: number,
  width: number,
  xMajor: number[],
  xLabels: string[],
  xMinor: number[],
  yMajor: number[],
  yLabels: string[]
) {
  const end = start + width * counts.length;
  const range = end - start;
  const maxC = Math.max(...counts);
  const xAxis = makeAxis(start - 0.05 * range, end + 0.05 * range, xMajor, xLabels, xMinor, true, XAXIS_H);
  const yAxis = makeAxis(-0.005 * maxC, 1.005 * maxC, yMajor, yLabels, COUNT_MINOR, false, LEFT_CANVAS.yAxis);
  return {
    type: "bar",
    data: {
      datasets: [
        {
          type: "line",
          data: [
            { x: start, y: 0 },
            { x: end, y: 0 },
          ],
          borderColor: HIST_LINE,
          borderWidth: 1.2,
          pointRadius: 0,
          order: 0,
        },
        {
          type: "bar",
          data: counts.map((c, i) => ({ x: start + (i + 0.5) * width, y: c })),
          backgroundColor: HIST_FILL,
          borderColor: HIST_LINE,
          borderWidth: 1.2,
          borderSkipped: false,
          inflateAmount: 0.6,
          barPercentage: 1,
          categoryPercentage: 1,
          order: 1,
        },
      ],
    },
    options: baseOptions(title, LEFT_CANVAS.padRight, xAxis, yAxis),
    plugins: [ggBackground],
  };
}

function chainPoints(main: number[], mid: number[]) {
  const pts = [
    ...ITERATIONS.map((x, i) => ({ x, y: main[i] })),
    ...ITERATIONS_MID.map((x, i) => ({ x, y: mid[i] })),
  ];
  return pts.sort((a, b) => a.x - b.x);
}

function traceConfig(
  title: string,
  chains: number[][][],
  yMajor: number[],
  yLabels: string[],
  yMinor: number[]
) {
  const all = chains.flatMap((c) => [...c[0], ...c[1]]);
  const lo = Math.min(...all);
  const hi = Math.max(...all);
  const pad = 0.05 * (hi - lo);
  const first = ITERATIONS[0];
  const last = ITERATIONS[ITERATIONS.length - 1];
  const xPad = 0.05 * (last - first);
  const xAxis = makeAxis(first - xPad, last + xPad, TRACE_X_MAJOR, TRACE_X_LABELS, TRACE_X_MINOR, true, XAXIS_H);
  const yAxis = makeAxis(lo - pad, hi + pad, yMajor, yLabels, yMinor, false, RIGHT_CANVAS.yAxis);
  return {
    type: "line",
    data: {
      datasets: chains.map((c, k) => ({
        label: CHAIN_LABELS[k],
        data: chainPoints(c[0], c[1]),
        borderColor: CHAIN_COLORS[k],
        borderWidth: 1,
        pointRadius: 0,
        tension: 0,
        fill: false,
        order: chains.length - k,
      })),
    },
    options: baseOptions(title, RIGHT_CANVAS.padRight, xAxis, yAxis),
    plugins: [ggBackground],
  };
}

function ChartCanvas({ left, top, width, height, build }: any) {
  const ref = useRef<HTMLCanvasElement>(null);
  useEffect(() => {
    const chart = new Chart(ref.current as HTMLCanvasElement, build());
    return () => chart.destroy();
  }, []);
  return (
    <canvas
      ref={ref}
      width={width}
      height={height}
      style={{ position: "absolute", left, top, width, height }}
    />
  );
}

const PANELS = [
  {
    col: LEFT_CANVAS, row: 0,
    build: () => histConfig("b_Intercept", INTERCEPT_COUNTS, INTERCEPT_BIN_START, INTERCEPT_BIN_WIDTH, INTERCEPT_MAJOR, INTERCEPT_LABELS, INTERCEPT_MINOR, COUNT_MAJOR_600, COUNT_LABELS_600),
  },
  {
    col: RIGHT_CANVAS, row: 0,
    build: () => traceConfig("b_Intercept", [[INTERCEPT_CHAIN1, INTERCEPT_CHAIN1_MID], [INTERCEPT_CHAIN2, INTERCEPT_CHAIN2_MID], [INTERCEPT_CHAIN3, INTERCEPT_CHAIN3_MID], [INTERCEPT_CHAIN4, INTERCEPT_CHAIN4_MID]], INTERCEPT_MAJOR, INTERCEPT_LABELS, INTERCEPT_MINOR),
  },
  {
    col: LEFT_CANVAS, row: 1,
    build: () => histConfig("sigma", SIGMA_COUNTS, SIGMA_BIN_START, SIGMA_BIN_WIDTH, HALF_MAJOR, HALF_LABELS, HALF_MINOR, COUNT_MAJOR_600, COUNT_LABELS_600),
  },
  {
    col: RIGHT_CANVAS, row: 1,
    build: () => traceConfig("sigma", [[SIGMA_CHAIN1, SIGMA_CHAIN1_MID], [SIGMA_CHAIN2, SIGMA_CHAIN2_MID], [SIGMA_CHAIN3, SIGMA_CHAIN3_MID], [SIGMA_CHAIN4, SIGMA_CHAIN4_MID]], SIGMA_TRACE_MAJOR, SIGMA_TRACE_LABELS, SIGMA_TRACE_MINOR),
  },
  {
    col: LEFT_CANVAS, row: 2,
    build: () => histConfig("sdgp_gpyear_scaledMH_scaled", SDGP_COUNTS, SDGP_BIN_START, SDGP_BIN_WIDTH, SDGP_HIST_MAJOR, SDGP_HIST_LABELS, SDGP_HIST_MINOR, COUNT_MAJOR_600, COUNT_LABELS_600),
  },
  {
    col: RIGHT_CANVAS, row: 2,
    build: () => traceConfig("sdgp_gpyear_scaledMH_scaled", [[SDGP_CHAIN1, SDGP_CHAIN1_MID], [SDGP_CHAIN2, SDGP_CHAIN2_MID], [SDGP_CHAIN3, SDGP_CHAIN3_MID], [SDGP_CHAIN4, SDGP_CHAIN4_MID]], SDGP_TRACE_MAJOR, SDGP_TRACE_LABELS, SDGP_TRACE_MINOR),
  },
  {
    col: LEFT_CANVAS, row: 3,
    build: () => histConfig("lscale_gpyear_scaledMH_scaled", LSCALE_COUNTS, LSCALE_BIN_START, LSCALE_BIN_WIDTH, HALF_MAJOR, HALF_LABELS, HALF_MINOR, COUNT_MAJOR_800, COUNT_LABELS_800),
  },
  {
    col: RIGHT_CANVAS, row: 3,
    build: () => traceConfig("lscale_gpyear_scaledMH_scaled", [[LSCALE_CHAIN1, LSCALE_CHAIN1_MID], [LSCALE_CHAIN2, LSCALE_CHAIN2_MID], [LSCALE_CHAIN3, LSCALE_CHAIN3_MID], [LSCALE_CHAIN4, LSCALE_CHAIN4_MID]], HALF_MAJOR, HALF_LABELS, HALF_MINOR),
  },
];

function Legend() {
  const keyTop = 414;
  const keyH = 46;
  return (
    <div style={{ position: "absolute", left: 0, top: 0, fontFamily: FONT }}>
      <div
        style={{
          position: "absolute",
          left: 1238,
          top: 373,
          fontSize: 29,
          lineHeight: "29px",
          color: "#000000",
          whiteSpace: "nowrap",
        }}
      >
        Chain
      </div>
      {CHAIN_LABELS.map((lab, k) => (
        <React.Fragment key={lab}>
          <div
            style={{
              position: "absolute",
              left: 1238,
              top: keyTop + k * keyH,
              width: 45,
              height: keyH,
              background: "#EBEBEB",
            }}
          />
          <div
            style={{
              position: "absolute",
              left: 1243,
              top: keyTop + k * keyH + keyH / 2 - 0.5,
              width: 37,
              height: 1.2,
              background: CHAIN_COLORS[k],
            }}
          />
          <div
            style={{
              position: "absolute",
              left: 1299,
              top: keyTop + k * keyH,
              height: keyH,
              lineHeight: keyH + "px",
              fontSize: AXIS_FONT,
              color: "#000000",
            }}
          >
            {lab}
          </div>
        </React.Fragment>
      ))}
    </div>
  );
}

export default function App() {
  return (
    <div
      style={{
        position: "absolute",
        left: 0,
        top: 0,
        width: 1344,
        height: 960,
        background: "#FFFFFF",
        overflow: "hidden",
      }}
    >
      {PANELS.map((p, i) => (
        <ChartCanvas
          key={i}
          left={p.col.left}
          top={ROW_TOPS[p.row]}
          width={p.col.width}
          height={CANVAS_H}
          build={p.build}
        />
      ))}
      <Legend />
    </div>
  );
}
